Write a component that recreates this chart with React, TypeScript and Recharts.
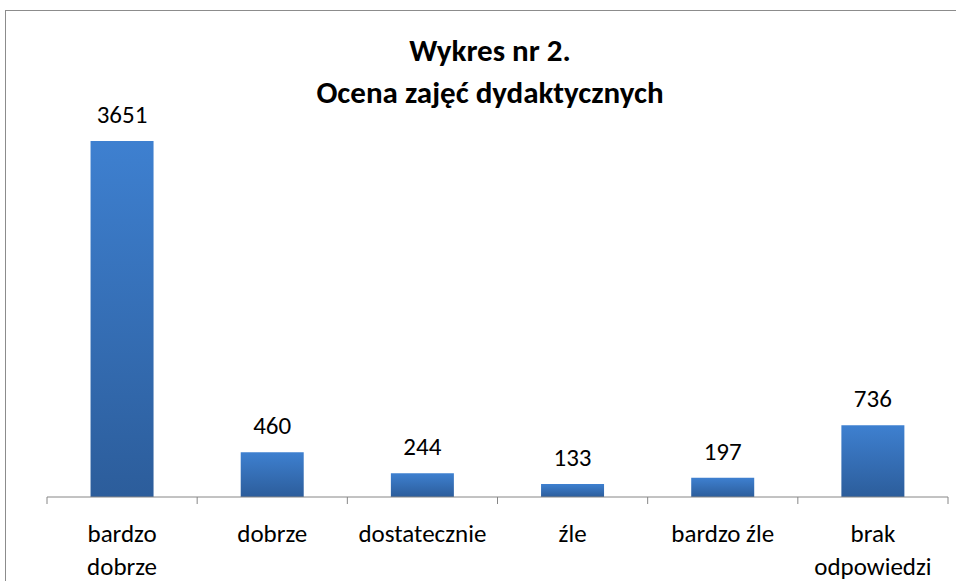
import React from "react";
import { BarChart, Bar, XAxis, YAxis, LabelList } from "recharts";

const categories = [
  "bardzo\ndobrze",
  "dobrze",
  "dostatecznie",
  "źle",
  "bardzo źle",
  "brak\nodpowiedzi",
];
const values = [3651, 460, 244, 133, 197, 736];

const data = categories.map((name, i) => ({ name, value: values[i] }));

const FONT = "Carlito, Lato, 'Noto Sans', sans-serif";
const PLOT_LEFT = 47;
const PLOT_RIGHT = 948;
const BAND = (PLOT_RIGHT - PLOT_LEFT) / categories.length;

function CategoryTick(props: any) {
  const { x, y, payload, index } = props;
  const lines = String(payload.value).split("\n");
  return (
    <g>
      <line x1={x - BAND / 2} x2={x - BAND / 2} y1={y - 8} y2={y - 1} stroke="#868686" />
      {index === categories.length - 1 && (
        <line x1={x + BAND / 2} x2={x + BAND / 2} y1={y - 8} y2={y - 1} stroke="#868686" />
      )}
      <text x={x} y={y + 37} textAnchor="middle" fontSize={25} fill="#000" fontFamily={FONT}>
        {lines.map((l, i) => (
          <tspan key={i} x={x} dy={i === 0 ? 0 : 33}>
            {l}
          </tspan>
        ))}
      </text>
    </g>
  );
}

export default function App() {
  return (
    <div
      style={{
        position: "absolute",
        left: 0,
        top: 0,
        width: 956,
        height: 581,
        overflow: "hidden",
        background: "#fff",
        fontFamily: FONT,
      }}
    >
      <div
        style={{
          position: "absolute",
          left: 5,
          top: 10,
          width: 1000,
          height: 700,
          border: "1px solid #8c8c8c",
        }}
      />
      <div
        style={{
          position: "absolute",
          left: 0,
          width: 980,
          top: 29,
          textAlign: "center",
          fontWeight: 700,
          fontSize: 31,
          lineHeight: "42px",
          color: "#000",
        }}
      >
        Wykres nr 2.
        <br />
        Ocena zajęć dydaktycznych
      </div>
      <div style={{ position: "absolute", left: 0, top: 0 }}>
        <BarChart
          width={956}
          height={581}
          data={data}
          margin={{ top: 107, right: 956 - PLOT_RIGHT, bottom: 0, left: PLOT_LEFT }}
          barCategoryGap="29%"
        >
          <defs>
            <linearGradient id="barGrad" x1="0" y1="0" x2="0" y2="1">
              <stop offset="0%" stopColor="#3e80d0" />
              <stop offset="100%" stopColor="#2c5d9b" />
            </linearGradient>
          </defs>
          <XAxis
            dataKey="name"
            interval={0}
            axisLine={{ stroke: "#868686", strokeWidth: 1 }}
            tickLine={false}
            tick={<CategoryTick />}
            height={84}
          />
          <YAxis hide domain={[0, 4000]} />
          <Bar dataKey="value" fill="url(#barGrad)" isAnimationActive={false}>
            <LabelList
              dataKey="value"
              position="top"
              offset={18}
              fontSize={25}
              fill="#000"
              fontFamily={FONT}
            />
          </Bar>
        </BarChart>
      </div>
    </div>
  );
}
